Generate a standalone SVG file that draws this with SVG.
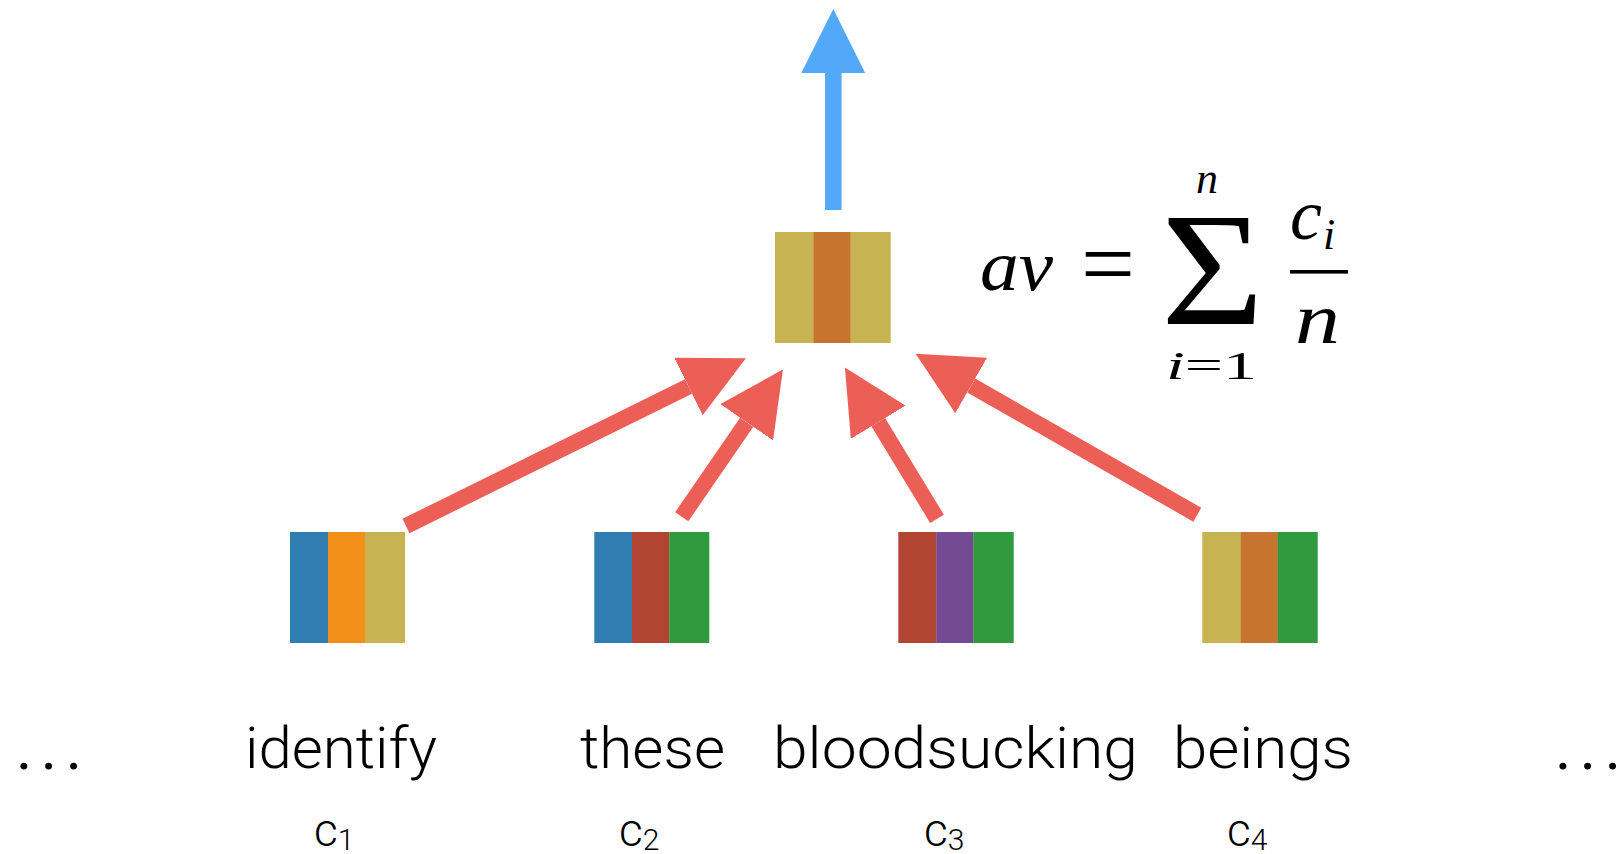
<svg xmlns="http://www.w3.org/2000/svg" width="1622" height="854" viewBox="0 0 1622 854">
<style>
.word{font-family:Roboto,"Liberation Sans",sans-serif;font-weight:300;font-size:58px;fill:#000}
.dots{font-family:Roboto,"Liberation Sans",sans-serif;font-weight:400;font-size:62px;fill:#000}
.cl{font-family:Roboto,"Liberation Sans",sans-serif;font-weight:300;font-size:46px;fill:#000}
.sub{font-family:Roboto,"Liberation Sans",sans-serif;font-weight:300;font-size:30px;fill:#000}
.m{font-family:"Liberation Serif","DejaVu Serif",serif;font-style:italic;fill:#000}
.mr{font-family:"Liberation Serif","DejaVu Serif",serif;font-style:normal;fill:#000}
.red{stroke:#ec5f57;stroke-width:16;fill:none}
.blue{stroke:#52a8f9;stroke-width:16.5;fill:none}
.cb{fill:#2f7db1}.co{fill:#f29018}.cy{fill:#c8b353}.cr{fill:#b14433}.cg{fill:#2f9a3e}.cp{fill:#744a95}.cbo{fill:#c67430}
</style>
<defs>
<marker id="hr" markerUnits="userSpaceOnUse" markerWidth="64" markerHeight="64" viewBox="0 0 64 64" refX="0" refY="32" orient="auto"><path d="M0,0 L64,32 L0,64 z" fill="#ec5f57"/></marker>
<marker id="hb" markerUnits="userSpaceOnUse" markerWidth="64" markerHeight="64" viewBox="0 0 64 64" refX="0" refY="32" orient="auto"><path d="M0,0 L64,32 L0,64 z" fill="#52a8f9"/></marker>
</defs>
<rect width="1622" height="854" fill="#fff"/>
<g id="connectors">
<line class="blue" x1="833.3" y1="210" x2="833.3" y2="73" marker-end="url(#hb)"/>
<line class="red" x1="406" y1="526" x2="688.5" y2="386.5" marker-end="url(#hr)"/>
<line class="red" x1="681.7" y1="516.8" x2="746.7" y2="422.2" marker-end="url(#hr)"/>
<line class="red" x1="937" y1="518.8" x2="878.2" y2="422.2" marker-end="url(#hr)"/>
<line class="red" x1="1197.3" y1="514.7" x2="971.2" y2="385.5" marker-end="url(#hr)"/>
</g>
<g id="avg">
<rect class="cy" x="775" y="232" width="38.5" height="111"/>
<rect class="cbo" x="813.3" y="232" width="37.5" height="111"/>
<rect class="cy" x="850.7" y="232" width="40" height="111"/>
</g>
<g id="c1">
<rect class="cb" x="290" y="532" width="38.2" height="111"/>
<rect class="co" x="328" y="532" width="37.2" height="111"/>
<rect class="cy" x="365" y="532" width="40" height="111"/>
</g>
<g id="c2">
<rect class="cb" x="594.3" y="532" width="37.9" height="111"/>
<rect class="cr" x="632" y="532" width="37.5" height="111"/>
<rect class="cg" x="669.3" y="532" width="40" height="111"/>
</g>
<g id="c3">
<rect class="cr" x="898.3" y="532" width="38.2" height="111"/>
<rect class="cp" x="936.3" y="532" width="37.2" height="111"/>
<rect class="cg" x="973.3" y="532" width="40.4" height="111"/>
</g>
<g id="c4">
<rect class="cy" x="1202.3" y="532" width="38.6" height="111"/>
<rect class="cbo" x="1240.7" y="532" width="37.2" height="111"/>
<rect class="cg" x="1277.7" y="532" width="40" height="111"/>
</g>
<g id="formula">
<text class="m" x="980" y="290" font-size="72" textLength="73" lengthAdjust="spacingAndGlyphs">av</text>
<text class="mr" x="1081" y="296" font-size="96" textLength="54" lengthAdjust="spacingAndGlyphs">=</text>
<text class="mr" x="1161" y="324" font-size="160" textLength="103" lengthAdjust="spacingAndGlyphs">Σ</text>
<text class="m" x="1196" y="193" font-size="44">n</text>
<text class="m" x="1166" y="379" font-size="40" textLength="91" lengthAdjust="spacingAndGlyphs">i<tspan class="mr">=1</tspan></text>
<text class="m" x="1290" y="239" font-size="72">c</text>
<text class="m" x="1323" y="249" font-size="44">i</text>
<rect x="1290" y="270" width="58" height="3.6" fill="#000"/>
<text class="m" x="1295" y="343" font-size="72" textLength="45" lengthAdjust="spacingAndGlyphs">n</text>
</g>
<g id="words">
<text class="dots" x="16" y="769" textLength="66" lengthAdjust="spacing">...</text>
<text class="word" x="245" y="768" textLength="192" lengthAdjust="spacingAndGlyphs">identify</text>
<text class="word" x="580" y="768" textLength="145" lengthAdjust="spacingAndGlyphs">these</text>
<text class="word" x="773" y="768" textLength="365" lengthAdjust="spacingAndGlyphs">bloodsucking</text>
<text class="word" x="1173" y="768" textLength="180" lengthAdjust="spacingAndGlyphs">beings</text>
<text class="dots" x="1555" y="769" textLength="66" lengthAdjust="spacing">...</text>
</g>
<g id="labels">
<text class="cl" x="314" y="846">c<tspan class="sub" dy="4">1</tspan></text>
<text class="cl" x="619" y="846">c<tspan class="sub" dy="4">2</tspan></text>
<text class="cl" x="924" y="846">c<tspan class="sub" dy="4">3</tspan></text>
<text class="cl" x="1227" y="846">c<tspan class="sub" dy="4">4</tspan></text>
</g>
</svg>
